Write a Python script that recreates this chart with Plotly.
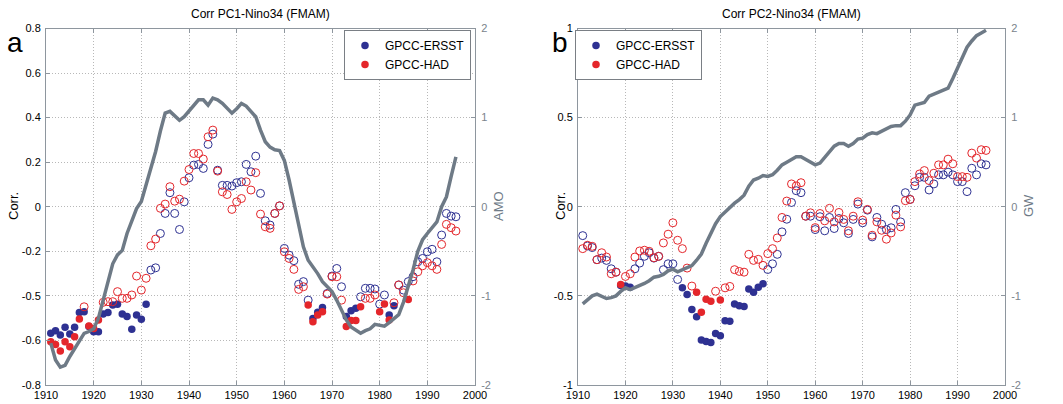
import plotly.graph_objects as go

# ---------------- data ----------------
years = list(range(1911, 1997))

pc1_ersst = [-0.568, -0.556, -0.576, -0.541, -0.571, -0.541, -0.475, -0.471, -0.538, -0.561,
             -0.561, -0.481, -0.475, -0.441, -0.438, -0.481, -0.493, -0.550, -0.486, -0.505,
             -0.438, -0.284, -0.274, -0.120, -0.030, 0.063, -0.030, -0.102, 0.022, 0.130,
             0.187, 0.190, 0.172, 0.280, 0.326, 0.164, 0.096, 0.096, 0.093, 0.108,
             0.112, 0.190, 0.157, 0.227, 0.060, -0.063, -0.082, -0.030, 0.004, -0.187,
             -0.217, -0.242, -0.348, -0.336, -0.419, -0.501, -0.474, -0.452, -0.389, -0.311,
             -0.277, -0.359, -0.493, -0.467, -0.456, -0.404, -0.366, -0.366, -0.369, -0.437,
             -0.396, -0.486, -0.444, -0.351, -0.374, -0.336, -0.314, -0.247, -0.232, -0.202,
             -0.191, -0.247, -0.127, -0.030, -0.042, -0.045]
pc1_had = [-0.606, -0.618, -0.647, -0.606, -0.628, -0.583, -0.504, -0.449, -0.535, -0.546,
           -0.508, -0.429, -0.426, -0.426, -0.381, -0.411, -0.411, -0.396, -0.311, -0.374,
           -0.321, -0.175, -0.145, -0.007, 0.012, 0.090, 0.025, 0.034, 0.115, 0.167,
           0.239, 0.239, 0.214, 0.314, 0.344, 0.160, 0.067, 0.055, -0.012, 0.022,
           0.037, 0.112, 0.075, 0.153, -0.033, -0.090, -0.097, -0.030, 0.004, -0.202,
           -0.232, -0.281, -0.371, -0.359, -0.441, -0.516, -0.486, -0.471, -0.392, -0.314,
           -0.314, -0.419, -0.538, -0.511, -0.511, -0.449, -0.411, -0.411, -0.396, -0.471,
           -0.437, -0.508, -0.431, -0.351, -0.386, -0.416, -0.333, -0.292, -0.265, -0.251,
           -0.265, -0.281, -0.169, -0.079, -0.094, -0.109]
pc1_ersst_sig = list(range(1911, 1932)) + [1966, 1967, 1968, 1973, 1974, 1975, 1982, 1983]
pc1_had_sig = [1911, 1912, 1913, 1914, 1915, 1916, 1917, 1919, 1920, 1921,
               1965, 1966, 1967, 1968, 1973, 1974, 1975, 1976, 1980, 1981, 1982, 1986]
amo = [-1.53, -1.72, -1.80, -1.78, -1.68, -1.59, -1.50, -1.42, -1.40, -1.37,
       -1.25, -1.05, -0.82, -0.64, -0.54, -0.49, -0.30, -0.15, -0.02, 0.06,
       0.25, 0.45, 0.62, 0.85, 1.05, 1.07, 1.02, 0.97, 1.01, 1.07,
       1.14, 1.20, 1.20, 1.14, 1.22, 1.20, 1.16, 1.10, 1.05, 1.10,
       1.16, 1.13, 1.07, 1.01, 0.86, 0.73, 0.67, 0.64, 0.63, 0.52,
       0.30, 0.04, -0.22, -0.45, -0.60, -0.67, -0.75, -0.84, -0.90, -0.95,
       -1.05, -1.16, -1.27, -1.35, -1.39, -1.42, -1.39, -1.37, -1.32, -1.33,
       -1.34, -1.30, -1.25, -1.21, -1.07, -0.90, -0.71, -0.50, -0.37, -0.30,
       -0.24, -0.17, 0.00, 0.11, 0.34, 0.56]

pc2_ersst = [-0.162, -0.220, -0.229, -0.297, -0.288, -0.301, -0.348, -0.367, -0.442, -0.445,
             -0.451, -0.348, -0.316, -0.278, -0.258, -0.288, -0.278, -0.353, -0.320, -0.320,
             -0.408, -0.455, -0.492, -0.577, -0.617, -0.748, -0.756, -0.761, -0.711, -0.724,
             -0.639, -0.643, -0.545, -0.555, -0.560, -0.461, -0.479, -0.451, -0.432, -0.352,
             -0.320, -0.267, -0.141, -0.070, 0.024, 0.090, 0.079, -0.053, -0.053, -0.128,
             -0.056, -0.135, -0.060, -0.122, -0.066, -0.090, -0.150, -0.071, 0.015, -0.090,
             -0.019, -0.169, -0.060, -0.098, -0.128, -0.118, -0.015, -0.085, 0.079, 0.041,
             0.118, 0.165, 0.165, 0.094, 0.128, 0.179, 0.179, 0.194, 0.179, 0.141,
             0.141, 0.085, 0.216, 0.179, 0.241, 0.235]
pc2_had = [-0.235, -0.216, -0.222, -0.297, -0.258, -0.282, -0.376, -0.367, -0.436, -0.391,
           -0.376, -0.282, -0.248, -0.244, -0.250, -0.286, -0.278, -0.203, -0.154, -0.090,
           -0.188, -0.235, -0.344, -0.445, -0.479, -0.592, -0.519, -0.530, -0.474, -0.523,
           -0.455, -0.447, -0.353, -0.363, -0.367, -0.267, -0.301, -0.295, -0.329, -0.263,
           -0.235, -0.175, -0.060, 0.032, 0.128, 0.117, 0.135, -0.053, -0.034, -0.117,
           -0.038, -0.079, -0.009, -0.085, -0.032, -0.071, -0.135, -0.053, 0.028, -0.075,
           -0.015, -0.160, -0.085, -0.132, -0.182, -0.147, -0.047, -0.113, 0.034, 0.041,
           0.141, 0.184, 0.203, 0.147, 0.188, 0.235, 0.235, 0.267, 0.241, 0.169,
           0.169, 0.165, 0.301, 0.273, 0.320, 0.316]
pc2_ersst_sig = [1919, 1920, 1921] + list(range(1932, 1950))
pc2_had_sig = [1919, 1935, 1936, 1937, 1938, 1940]
gw = [-1.09, -1.04, -1.00, -0.98, -1.01, -1.03, -1.02, -1.00, -0.95, -0.91,
      -0.93, -0.91, -0.88, -0.86, -0.83, -0.79, -0.78, -0.76, -0.72, -0.70,
      -0.73, -0.71, -0.69, -0.66, -0.60, -0.53, -0.41, -0.30, -0.19, -0.11,
      -0.06, 0.00, 0.04, 0.08, 0.13, 0.23, 0.30, 0.32, 0.35, 0.34,
      0.36, 0.41, 0.47, 0.50, 0.53, 0.56, 0.56, 0.53, 0.49, 0.47,
      0.49, 0.55, 0.61, 0.68, 0.71, 0.71, 0.68, 0.71, 0.76, 0.77,
      0.81, 0.83, 0.82, 0.85, 0.87, 0.90, 0.91, 0.91, 0.96, 1.03,
      1.14, 1.16, 1.17, 1.24, 1.26, 1.28, 1.30, 1.33, 1.44, 1.56,
      1.69, 1.79, 1.86, 1.92, 1.95, 1.98]

x_ticks = [1910, 1920, 1930, 1940, 1950, 1960, 1970, 1980, 1990, 2000]
pc1_tickvals = [-0.8, -0.6, -0.4, -0.2, 0, 0.2, 0.4, 0.6, 0.8]
pc1_ticktext = ["-0.8", "-0.6", "-0.5", "-0.2", "0", "0.2", "0.4", "0.6", "0.8"]
pc2_tickvals = [-1, -0.5, 0, 0.5, 1]
pc2_ticktext = ["-1", "-0.5", "0", "0.5", "1"]
right_tickvals = [-2, -1, 0, 1, 2]
right_ticktext = ["-2", "-1", "0", "1", "2"]

series_names = ["GPCC-ERSST", "GPCC-HAD"]
titles = ["Corr PC1-Nino34 (FMAM)", "Corr PC2-Nino34 (FMAM)"]
right_titles = ["AMO", "GW"]
panel_letters = ["a", "b"]

# ---------------- style ----------------
W, H = 1063, 404
BLUE = "#2E3192"
RED = "#E4262B"
GRAY_LINE = "#6E7A86"
FRAME = "#8E969E"
GRID = "#B8B8B8"
FONT = "Liberation Sans, Arial, sans-serif"

def px_x(p):
    return p / W

def px_y(p):
    return 1 - p / H

dom_x1 = [px_x(46), px_x(475)]
dom_x2 = [px_x(578), px_x(1005)]
dom_y = [px_y(385), px_y(28.5)]

fig = go.Figure()

def split(vals, sig):
    xs, ys, xo, yo = [], [], [], []
    for yr, v in zip(years, vals):
        if yr in sig:
            xs.append(yr); ys.append(v)
        else:
            xo.append(yr); yo.append(v)
    return xs, ys, xo, yo

def add_panel(xa, ya, ya2, legend, s1, s1sig, s2, s2sig, line):
    for vals, sig, col, name in [(s1, s1sig, BLUE, series_names[0]),
                                 (s2, s2sig, RED, series_names[1])]:
        xs, ys, xo, yo = split(vals, sig)
        fig.add_trace(go.Scatter(x=xo, y=yo, mode="markers", xaxis=xa, yaxis=ya,
                                 marker=dict(symbol="circle-open", size=8, color=col,
                                             line=dict(width=1, color=col)),
                                 showlegend=False))
        fig.add_trace(go.Scatter(x=xs, y=ys, mode="markers", xaxis=xa, yaxis=ya,
                                 marker=dict(symbol="circle", size=7.5, color=col,
                                             line=dict(width=0)),
                                 name=name, legend=legend, showlegend=True))
    fig.add_trace(go.Scatter(x=years, y=line, mode="lines", xaxis=xa, yaxis=ya2,
                             line=dict(color=GRAY_LINE, width=3.5),
                             showlegend=False))

add_panel("x", "y", "y2", "legend", pc1_ersst, pc1_ersst_sig, pc1_had, pc1_had_sig, amo)
add_panel("x2", "y3", "y4", "legend2", pc2_ersst, pc2_ersst_sig, pc2_had, pc2_had_sig, gw)

xcommon = dict(range=[1910, 2000], tickvals=x_ticks, ticktext=[str(t) for t in x_ticks],
               showgrid=True, gridcolor=GRID, griddash="1px,2px", gridwidth=1,
               showline=True, linecolor=FRAME, linewidth=1, mirror="ticks",
               ticks="inside", ticklen=4, tickcolor=FRAME, zeroline=False, automargin=False,
               tickfont=dict(size=11, color="black", family=FONT))
ycommon = dict(showgrid=True, gridcolor=GRID, griddash="1px,2px", gridwidth=1,
               showline=True, linecolor=FRAME, linewidth=1, mirror=False,
               ticks="inside", ticklen=4, tickcolor=FRAME, zeroline=False, automargin=False,
               tickfont=dict(size=11, color="black", family=FONT), ticklabelstandoff=2)
yright = dict(showgrid=False, showline=True, linecolor=FRAME, linewidth=1,
              ticks="inside", ticklen=4, tickcolor=FRAME, zeroline=False, side="right",
              automargin=False,
              range=[-2, 2], tickvals=right_tickvals, ticktext=right_ticktext,
              tickfont=dict(size=11, color="#7A838C", family=FONT), ticklabelstandoff=3)

legend_common = dict(bgcolor="white", bordercolor="#7A7F85", borderwidth=1,
                     font=dict(size=12, color="black", family=FONT),
                     xanchor="left", yanchor="top", itemwidth=30,
                     tracegroupgap=0)

fig.update_layout(
    template="none",
    width=W, height=H, autosize=False,
    margin=dict(l=0, r=0, t=0, b=0, pad=0),
    paper_bgcolor="white", plot_bgcolor="white",
    font=dict(family=FONT, color="black"),
    xaxis=dict(domain=dom_x1, anchor="y", **xcommon),
    yaxis=dict(domain=dom_y, anchor="x", range=[-0.8, 0.8], tickvals=pc1_tickvals,
               ticktext=pc1_ticktext, **ycommon),
    yaxis2=dict(overlaying="y", anchor="x", **yright),
    xaxis2=dict(domain=dom_x2, anchor="y3", **xcommon),
    yaxis3=dict(domain=dom_y, anchor="x2", range=[-1, 1], tickvals=pc2_tickvals,
                ticktext=pc2_ticktext, **ycommon),
    yaxis4=dict(overlaying="y3", anchor="x2", **yright),
    legend=dict(x=px_x(344), y=px_y(30), **legend_common),
    legend2=dict(x=px_x(575), y=px_y(30), **legend_common),
)

annotations = []
for i, cx in enumerate([(46 + 475) / 2, (578 + 1005) / 2]):
    annotations.append(dict(text=titles[i], x=px_x(cx), y=px_y(14), xref="paper", yref="paper",
                            showarrow=False, xanchor="center", yanchor="middle",
                            font=dict(size=12, color="black", family=FONT)))
for txt, cx in [("Corr.", 13), ("Corr.", 560)]:
    annotations.append(dict(text=txt, x=px_x(cx), y=px_y(206), xref="paper", yref="paper",
                            showarrow=False, textangle=-90, xanchor="center", yanchor="middle",
                            font=dict(size=13, color="black", family=FONT)))
for txt, cx in zip(right_titles, [498, 1028]):
    annotations.append(dict(text=txt, x=px_x(cx), y=px_y(206), xref="paper", yref="paper",
                            showarrow=False, textangle=-90, xanchor="center", yanchor="middle",
                            font=dict(size=13, color="#6E7A86", family=FONT)))
for txt, cx in zip(panel_letters, [15, 560]):
    annotations.append(dict(text=txt, x=px_x(cx), y=px_y(43), xref="paper", yref="paper",
                            showarrow=False, xanchor="center", yanchor="middle",
                            font=dict(size=28, color="black", family=FONT)))
fig.update_layout(annotations=annotations)

fig.write_html("out.html",
               config={"displayModeBar": False},
               post_script="document.body.style.margin='0';document.body.style.overflow='hidden';")
